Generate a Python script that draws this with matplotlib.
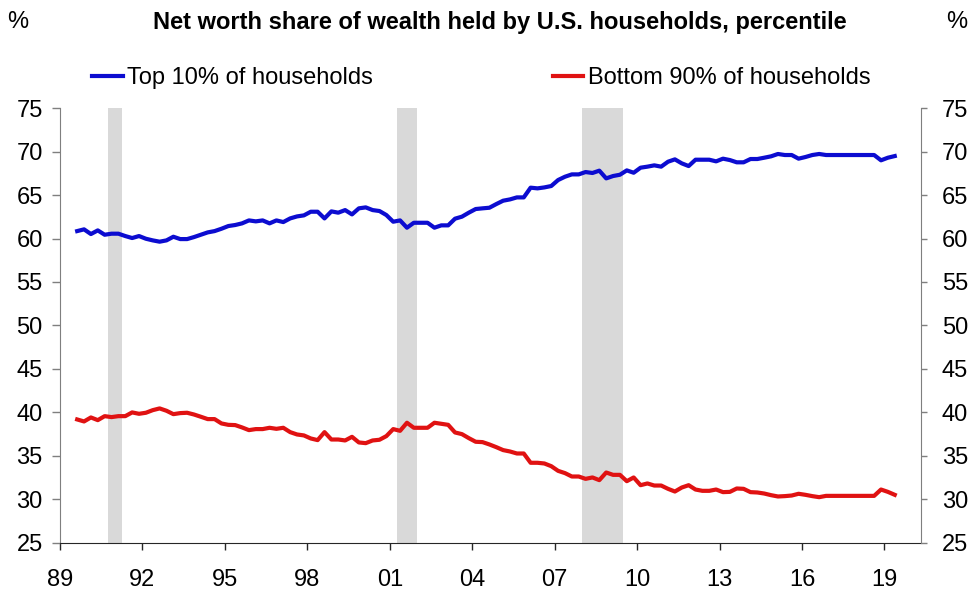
import numpy as np
import matplotlib
matplotlib.use("Agg")
import matplotlib.pyplot as plt

plt.rcParams["font.family"] = ["Liberation Sans", "DejaVu Sans"]

# Quarterly net worth shares (%), 1989Q3 - 2019Q2
top10 = [60.86, 61.06, 60.52, 60.94, 60.44, 60.56, 60.56, 60.29, 60.06, 60.29,
         59.98, 59.79, 59.64, 59.79, 60.21, 59.94, 59.94, 60.17, 60.44, 60.71,
         60.86, 61.13, 61.44, 61.56, 61.75, 62.09, 61.98, 62.09, 61.75, 62.09,
         61.90, 62.32, 62.55, 62.67, 63.09, 63.09, 62.32, 63.13, 62.98, 63.28,
         62.78, 63.48, 63.59, 63.28, 63.17, 62.71, 61.94, 62.09, 61.25, 61.82,
         61.82, 61.82, 61.25, 61.52, 61.52, 62.29, 62.52, 62.98, 63.40, 63.48,
         63.55, 63.97, 64.36, 64.51, 64.74, 64.74, 65.86, 65.78, 65.89, 66.05,
         66.74, 67.12, 67.39, 67.39, 67.66, 67.55, 67.82, 66.93, 67.20, 67.35,
         67.85, 67.58, 68.16, 68.28, 68.43, 68.28, 68.85, 69.12, 68.66, 68.35,
         69.08, 69.08, 69.08, 68.89, 69.20, 69.04, 68.78, 68.78, 69.16, 69.16,
         69.31, 69.47, 69.74, 69.62, 69.62, 69.20, 69.39, 69.62, 69.74, 69.62,
         69.62, 69.62, 69.62, 69.62, 69.62, 69.62, 69.62, 69.01, 69.31, 69.50]

bottom90 = [39.17, 38.94, 39.40, 39.09, 39.55, 39.44, 39.55, 39.55, 39.98, 39.82,
            39.94, 40.24, 40.44, 40.17, 39.78, 39.90, 39.94, 39.74, 39.48, 39.21,
            39.21, 38.71, 38.55, 38.52, 38.25, 37.94, 38.06, 38.06, 38.21, 38.09,
            38.21, 37.71, 37.44, 37.33, 36.98, 36.79, 37.71, 36.86, 36.86, 36.75,
            37.17, 36.52, 36.44, 36.75, 36.83, 37.25, 38.06, 37.86, 38.79, 38.21,
            38.21, 38.21, 38.79, 38.67, 38.55, 37.67, 37.48, 37.02, 36.60, 36.56,
            36.29, 35.98, 35.64, 35.48, 35.25, 35.25, 34.18, 34.18, 34.10, 33.79,
            33.25, 32.99, 32.60, 32.60, 32.33, 32.49, 32.18, 33.06, 32.79, 32.79,
            32.06, 32.49, 31.60, 31.80, 31.56, 31.56, 31.18, 30.87, 31.33, 31.60,
            31.10, 30.95, 30.95, 31.10, 30.80, 30.83, 31.22, 31.18, 30.80, 30.76,
            30.64, 30.45, 30.30, 30.34, 30.41, 30.61, 30.49, 30.34, 30.22, 30.37,
            30.37, 30.37, 30.37, 30.37, 30.37, 30.37, 30.37, 31.10, 30.83, 30.49]

# NBER recessions (decimal years, quarterly resolution)
recession_start = [1990.75, 2001.25, 2008.0]
recession_end = [1991.25, 2002.0, 2009.5]

tick_years = [1989, 1992, 1995, 1998, 2001, 2004, 2007, 2010, 2013, 2016, 2019]
tick_labels = ["89", "92", "95", "98", "01", "04", "07", "10", "13", "16", "19"]
y_ticks = [25, 30, 35, 40, 45, 50, 55, 60, 65, 70, 75]

quarters = 1989.625 + 0.25 * np.arange(len(top10))

W, H = 968, 590
fig = plt.figure(figsize=(W / 100, H / 100), dpi=100)
ax = fig.add_axes([60 / W, 1 - 542.5 / H, (921 - 60) / W, (542.5 - 108.3) / H])

for s, e in zip(recession_start, recession_end):
    ax.axvspan(s, e, color="#d9d9d9", lw=0, zorder=0)

blue = "#0c0cd0"
red = "#e01212"
l1, = ax.plot(quarters, top10, color=blue, lw=3.0, solid_joinstyle="round", zorder=3)
l2, = ax.plot(quarters, bottom90, color=red, lw=3.0, solid_joinstyle="round", zorder=3)

ax.set_xlim(1989, 2020.33)
ax.set_ylim(25, 75)
ax.set_yticks(y_ticks)
ax.set_xticks(tick_years)
ax.set_xticklabels(tick_labels)

spine_gray = "#7f7f7f"
ax.spines["top"].set_visible(False)
ax.spines["right"].set_visible(False)
ax.spines["left"].set_color(spine_gray)
ax.spines["bottom"].set_color("#262626")
ax.tick_params(axis="y", direction="out", length=5.5, width=1, color=spine_gray,
               labelsize=17, pad=7, left=True, right=False)
ax.tick_params(axis="x", direction="out", length=5, width=1, color="#262626",
               labelsize=17, pad=14)

ax2 = ax.twinx()
ax2.set_ylim(25, 75)
ax2.set_yticks(y_ticks)
for side in ("top", "left", "bottom"):
    ax2.spines[side].set_visible(False)
ax2.spines["right"].set_color(spine_gray)
ax2.tick_params(axis="y", direction="out", length=4, width=1, color=spine_gray,
                labelsize=17, pad=11)

fig.text(500 / W, 1 - 22 / H, "Net worth share of wealth held by U.S. households, percentile",
         ha="center", va="center", fontsize=17, fontweight="bold")
fig.text(18 / W, 1 - 22 / H, "%", ha="center", va="center", fontsize=17)
fig.text(957 / W, 1 - 22 / H, "%", ha="center", va="center", fontsize=17)

fig.legend([l1, l2], ["Top 10% of households", "Bottom 90% of households"],
           loc="center left", bbox_to_anchor=(92 / W, 1 - 78 / H), ncol=2,
           frameon=False, fontsize=17, handlelength=1.3, handletextpad=0.2,
           columnspacing=7.6, borderpad=0, borderaxespad=0)

fig.savefig("out.png", dpi=100)
